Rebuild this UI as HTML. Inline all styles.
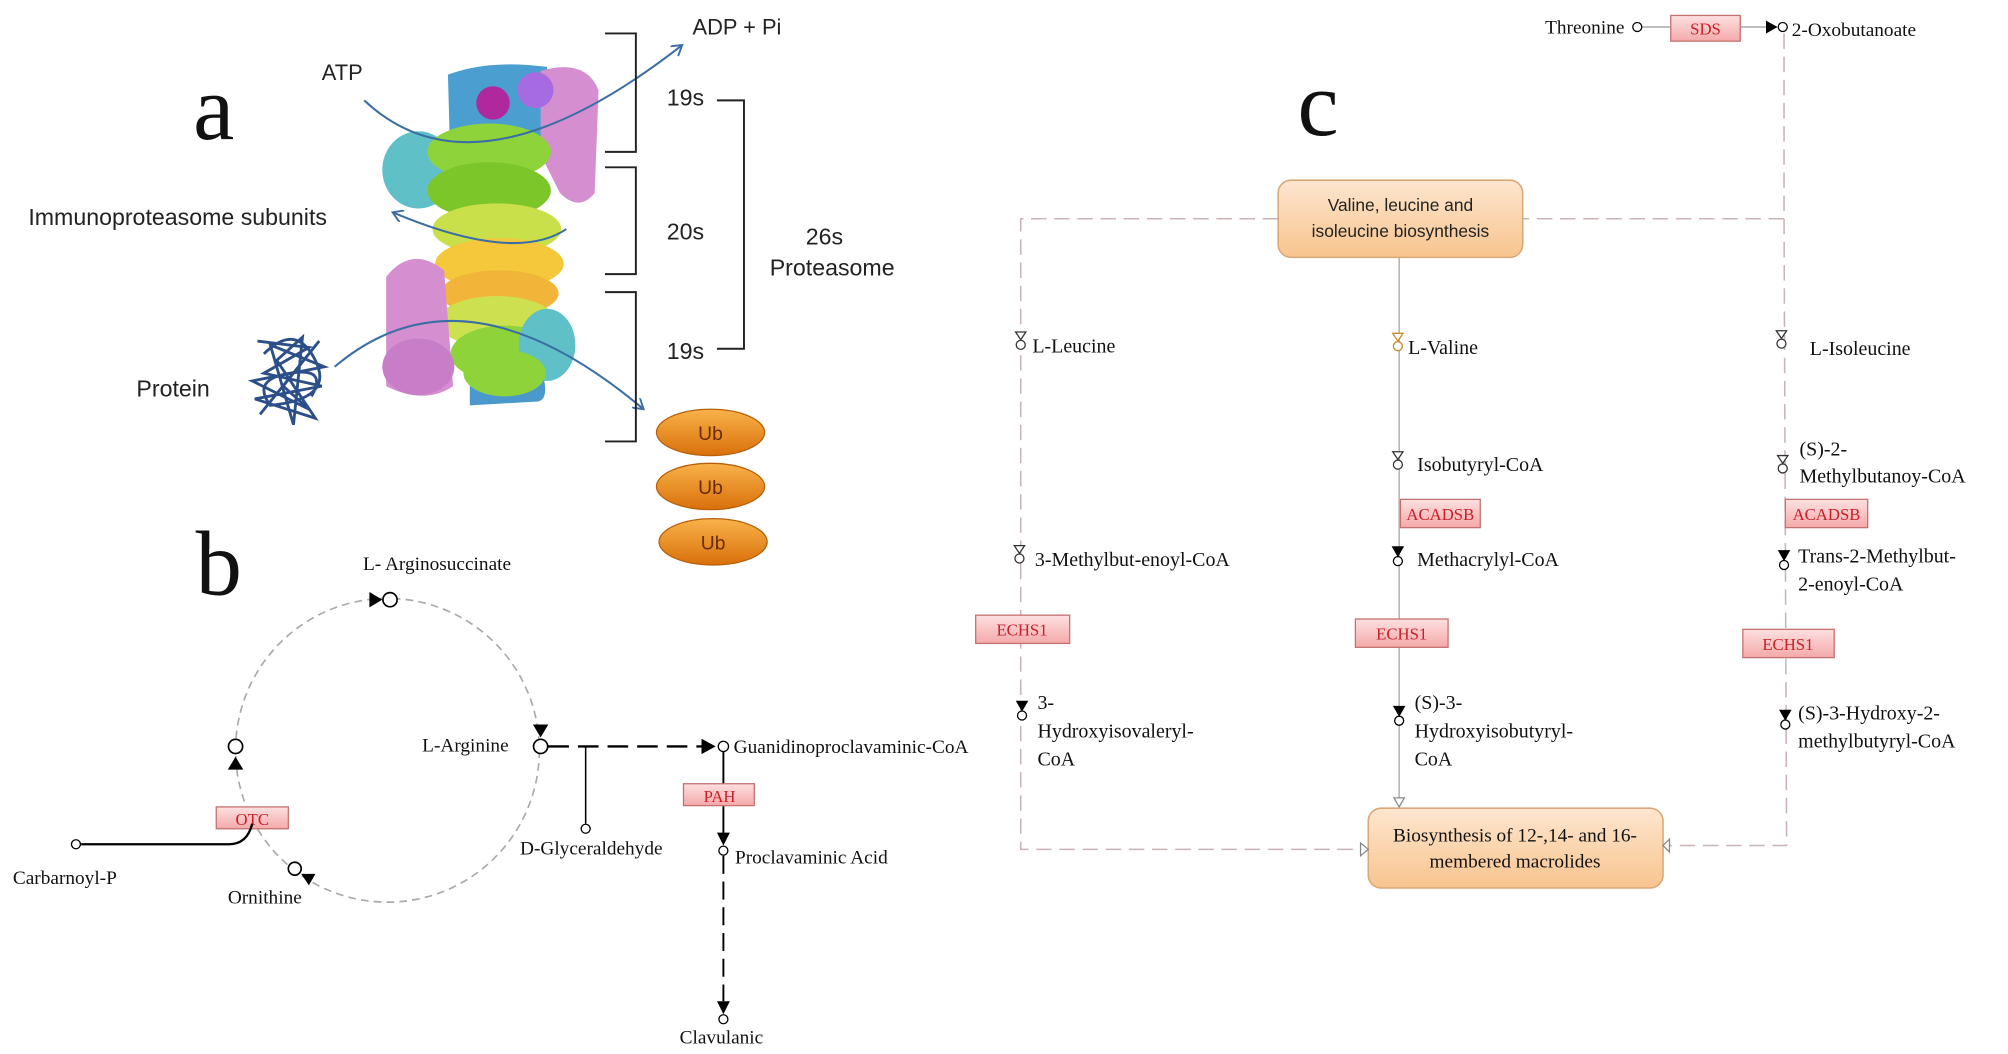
<!DOCTYPE html>
<html><head><meta charset="utf-8"><style>
html,body{margin:0;padding:0;background:#fff;width:2008px;height:1054px;overflow:hidden}
svg{display:block}
.s{font-family:"Liberation Sans",sans-serif;fill:#222}
.r{font-family:"Liberation Serif",serif;fill:#111}
.e{font-family:"Liberation Serif",serif;fill:#c8202a;font-size:13px;text-anchor:middle}
</style></head><body>
<svg width="2008" height="1054" viewBox="0 0 1560 819" preserveAspectRatio="none" xmlns="http://www.w3.org/2000/svg">
<defs>
<linearGradient id="ub" x1="0" y1="0" x2="0" y2="1"><stop offset="0" stop-color="#f9b24a"/><stop offset="1" stop-color="#d9700a"/></linearGradient>
<linearGradient id="bx" x1="0" y1="0" x2="0" y2="1"><stop offset="0" stop-color="#fde6cf"/><stop offset="1" stop-color="#f8c48e"/></linearGradient>
<linearGradient id="en" x1="0" y1="0" x2="0" y2="1"><stop offset="0" stop-color="#fde0e0"/><stop offset="1" stop-color="#f4a9a9"/></linearGradient>
<marker id="ba" markerWidth="10" markerHeight="10" refX="8" refY="5" orient="auto" markerUnits="userSpaceOnUse"><path d="M0,0 L8,5 L0,10" fill="none" stroke="#3a6ea5" stroke-width="1.5"/></marker>
</defs>

<!-- Panel a -->
<text x="150" y="108" class="r" font-size="72">a</text>
<g>
<path d="M348,58 Q380,46 425,52 L425,120 L350,130 Z" fill="#4a9fd0"/>
<path d="M420,55 Q455,45 465,70 L462,150 Q450,165 435,150 L420,120 Z" fill="#d58ed0"/>
<ellipse cx="325" cy="132" rx="28" ry="30" fill="#5fc0c8"/>
<ellipse cx="380" cy="118" rx="48" ry="22" fill="#8fd33a"/>
<ellipse cx="380" cy="148" rx="48" ry="22" fill="#7cc62a"/>
<ellipse cx="386" cy="178" rx="50" ry="20" fill="#c9e04a"/>
<ellipse cx="388" cy="205" rx="50" ry="20" fill="#f5c73a"/>
<ellipse cx="388" cy="228" rx="46" ry="18" fill="#f1b53a"/>
<ellipse cx="386" cy="250" rx="46" ry="20" fill="#cde050"/>
<ellipse cx="392" cy="275" rx="42" ry="22" fill="#8fd33a"/>
<ellipse cx="425" cy="268" rx="22" ry="28" fill="#5fc0c8"/>
<path d="M300,215 Q320,190 345,210 L352,300 Q330,315 300,300 Z" fill="#d58ed0"/>
<ellipse cx="325" cy="285" rx="28" ry="22" fill="#c87dc8"/>
<path d="M365,280 L420,285 Q428,310 418,312 L365,315 Z" fill="#4a98cc"/>
<ellipse cx="392" cy="290" rx="32" ry="18" fill="#8fd33a"/>
<circle cx="416" cy="70" r="14" fill="#a66be0"/>
<circle cx="383" cy="80" r="13" fill="#b0289e"/>
</g>
<path d="M283,78 Q370,160 530,35" fill="none" stroke="#3a6ea5" stroke-width="1.6" marker-end="url(#ba)"/>
<path d="M440,178 Q400,205 305,165" fill="none" stroke="#3a6ea5" stroke-width="1.6" marker-end="url(#ba)"/>
<path d="M260,285 Q360,200 500,318" fill="none" stroke="#3a6ea5" stroke-width="1.6" marker-end="url(#ba)"/>
<g stroke="#2c4f8a" stroke-width="2.2" fill="none">
<path d="M200,265 L240,270 L205,290 L250,300 L198,310 L245,325 L215,280 L235,262 L228,330 L210,268 L252,285 L196,296 L240,318 L220,300 L248,265 L202,322"/>
<path d="M205,275 Q230,250 245,280 T210,315 Q195,295 225,290 T242,308"/>
</g>
<text x="250" y="62" class="s" font-size="17">ATP</text>
<text x="538" y="27" class="s" font-size="17">ADP + Pi</text>
<text x="22" y="175" class="s" font-size="18">Immunoproteasome subunits</text>
<text x="106" y="308" class="s" font-size="18">Protein</text>
<text x="518" y="82" class="s" font-size="18">19s</text>
<text x="518" y="186" class="s" font-size="18">20s</text>
<text x="518" y="279" class="s" font-size="18">19s</text>
<text x="626" y="190" class="s" font-size="18">26s</text>
<text x="598" y="214" class="s" font-size="18">Proteasome</text>
<g fill="none" stroke="#222" stroke-width="1.5">
<path d="M470,26 L494,26 L494,118 L470,118"/>
<path d="M470,130 L494,130 L494,213 L470,213"/>
<path d="M470,227 L494,227 L494,343 L470,343"/>
<path d="M557,78 L578,78 L578,271 L557,271"/>
</g>
<g class="s">
<ellipse cx="552" cy="336" rx="42" ry="18" fill="url(#ub)" stroke="#b8600a"/>
<ellipse cx="552" cy="378" rx="42" ry="18" fill="url(#ub)" stroke="#b8600a"/>
<ellipse cx="554" cy="421" rx="42" ry="18" fill="url(#ub)" stroke="#b8600a"/>
<text x="552" y="342" font-size="15" text-anchor="middle" fill="#6b2c00">Ub</text>
<text x="552" y="384" font-size="15" text-anchor="middle" fill="#6b2c00">Ub</text>
<text x="554" y="427" font-size="15" text-anchor="middle" fill="#6b2c00">Ub</text>
</g>

<!-- Panel b -->
<text x="152" y="462" class="r" font-size="72">b</text>
<circle cx="301" cy="583" r="118" fill="none" stroke="#aaa" stroke-width="1.3" stroke-dasharray="6,4"/>
<text x="282" y="443" class="r" font-size="15">L- Arginosuccinate</text>
<path d="M287,460 L297,466 L287,472 Z" fill="#000"/><circle cx="303" cy="466" r="5.5" fill="#fff" stroke="#000" stroke-width="1.3"/>
<text x="328" y="584" class="r" font-size="15">L-Arginine</text>
<path d="M414,563 L420,573 L426,563 Z" fill="#000"/><circle cx="420" cy="580" r="5.5" fill="#fff" stroke="#000" stroke-width="1.3"/>
<path d="M177,598 L183,588 L189,598 Z" fill="#000"/><circle cx="183" cy="580" r="5.5" fill="#fff" stroke="#000" stroke-width="1.3"/>
<rect x="168" y="627" width="56" height="17" fill="url(#en)" stroke="#c47070"/>
<text x="196" y="641" class="e">OTC</text>
<circle cx="59" cy="656" r="3.5" fill="#fff" stroke="#000"/>
<path d="M63,656 L178,656 Q192,656 196,640" fill="none" stroke="#000" stroke-width="1.8"/>
<text x="10" y="687" class="r" font-size="15">Carbarnoyl-P</text>
<circle cx="229" cy="675" r="5" fill="#fff" stroke="#000" stroke-width="1.3"/><path d="M234,679 L245,679 L240,688 Z" fill="#000"/>
<text x="177" y="702" class="r" font-size="15">Ornithine</text>
<path d="M426,580 L545,580" stroke="#000" stroke-width="1.8" stroke-dasharray="16,7"/>
<path d="M545,574 L556,580 L545,586 Z" fill="#000"/><circle cx="562" cy="580" r="4" fill="#fff" stroke="#000"/>
<text x="570" y="585" class="r" font-size="15">Guanidinoproclavaminic-CoA</text>
<path d="M455,580 L455,640" stroke="#000" stroke-width="1.2"/><circle cx="455" cy="644" r="3.5" fill="#fff" stroke="#000"/>
<text x="404" y="664" class="r" font-size="15">D-Glyceraldehyde</text>
<path d="M562,584 L562,648" stroke="#000" stroke-width="1.5"/>
<rect x="531" y="609" width="55" height="17" fill="url(#en)" stroke="#c47070"/>
<text x="559" y="623" class="e">PAH</text>
<path d="M557,647 L562,657 L567,647 Z" fill="#000"/><circle cx="562" cy="661" r="3.5" fill="#fff" stroke="#000"/>
<text x="571" y="671" class="r" font-size="15">Proclavaminic Acid</text>
<path d="M562,665 L562,778" stroke="#000" stroke-width="1.5" stroke-dasharray="14,6"/>
<path d="M557,778 L562,788 L567,778 Z" fill="#000"/><circle cx="562" cy="792" r="3.5" fill="#fff" stroke="#000"/>
<text x="528" y="811" class="r" font-size="15">Clavulanic</text>

<!-- Panel c -->
<text x="1008" y="105" class="r" font-size="72">c</text>
<text x="1262" y="26" class="r" font-size="15" text-anchor="end">Threonine</text>
<circle cx="1272" cy="21" r="3.5" fill="#fff" stroke="#000"/>
<path d="M1276,21 L1298,21 M1352,21 L1372,21" stroke="#999"/>
<rect x="1298" y="12" width="54" height="20" fill="url(#en)" stroke="#c47070"/>
<text x="1325" y="27" class="e">SDS</text>
<path d="M1372,16 L1381,21 L1372,26 Z" fill="#000"/><circle cx="1385" cy="21" r="3.5" fill="#fff" stroke="#000"/>
<text x="1392" y="28" class="r" font-size="15">2-Oxobutanoate</text>
<g fill="none" stroke="#c8b4b4" stroke-width="1.2" stroke-dasharray="12,6">
<path d="M1386,26 L1386,170 L1183,170"/>
<path d="M993,170 L793,170 L793,660 L1058,660"/>
<path d="M1386,170 L1388,657 L1297,657"/>
</g>
<path d="M1087,200 L1087,622" stroke="#b8a8a8" stroke-width="1.1"/>
<rect x="993" y="140" width="190" height="60" rx="10" fill="url(#bx)" stroke="#d9a878" stroke-width="1.2"/>
<text x="1088" y="164" class="s" font-size="13.5" text-anchor="middle">Valine, leucine and</text>
<text x="1088" y="184" class="s" font-size="13.5" text-anchor="middle">isoleucine biosynthesis</text>
<rect x="1063" y="628" width="229" height="62" rx="10" fill="url(#bx)" stroke="#d9a878" stroke-width="1.2"/>
<text x="1177" y="654" class="r" font-size="15" text-anchor="middle">Biosynthesis of 12-,14- and 16-</text>
<text x="1177" y="674" class="r" font-size="15" text-anchor="middle">membered macrolides</text>
<path d="M1057,655 L1063,660 L1057,665 Z" fill="#fff" stroke="#888"/>
<path d="M1297,652 L1292,657 L1297,662 Z" fill="#fff" stroke="#888"/>
<path d="M1083,620 L1087,627 L1091,620 Z" fill="#fff" stroke="#888"/>

<g fill="#fff" stroke="#333" stroke-width="1">
<path d="M789,258 L797,258 L793,264 Z"/><circle cx="793" cy="268" r="3.5"/>
<path d="M1082,259 L1090,259 L1086,265 Z" stroke="#c98a2a"/><circle cx="1086" cy="269" r="3.5" stroke="#c98a2a"/>
<path d="M1380,257 L1388,257 L1384,263 Z"/><circle cx="1384" cy="267" r="3.5"/>
<path d="M1082,351 L1090,351 L1086,357 Z"/><circle cx="1086" cy="361" r="3.5"/>
<path d="M1381,354 L1389,354 L1385,360 Z"/><circle cx="1385" cy="364" r="3.5"/>
<path d="M788,424 L796,424 L792,430 Z"/><circle cx="792" cy="434" r="3.5"/>
</g>
<g stroke="#000" stroke-width="1">
<path d="M1082,425 L1090,425 L1086,432 Z" fill="#000"/><circle cx="1086" cy="436" r="3.5" fill="#fff"/>
<path d="M1382,428 L1390,428 L1386,435 Z" fill="#000"/><circle cx="1386" cy="439" r="3.5" fill="#fff"/>
<path d="M790,545 L798,545 L794,552 Z" fill="#000"/><circle cx="794" cy="556" r="3.5" fill="#fff"/>
<path d="M1083,549 L1091,549 L1087,556 Z" fill="#000"/><circle cx="1087" cy="560" r="3.5" fill="#fff"/>
<path d="M1383,552 L1391,552 L1387,559 Z" fill="#000"/><circle cx="1387" cy="563" r="3.5" fill="#fff"/>
</g>
<g class="r" font-size="15.5">
<text x="802" y="274">L-Leucine</text>
<text x="1094" y="275">L-Valine</text>
<text x="1406" y="276">L-Isoleucine</text>
<text x="1101" y="366">Isobutyryl-CoA</text>
<text x="1398" y="354">(S)-2-</text>
<text x="1398" y="375">Methylbutanoy-CoA</text>
<text x="804" y="440">3-Methylbut-enoyl-CoA</text>
<text x="1101" y="440">Methacrylyl-CoA</text>
<text x="1397" y="437">Trans-2-Methylbut-</text>
<text x="1397" y="459">2-enoyl-CoA</text>
<text x="806" y="551">3-</text>
<text x="806" y="573">Hydroxyisovaleryl-</text>
<text x="806" y="595">CoA</text>
<text x="1099" y="551">(S)-3-</text>
<text x="1099" y="573">Hydroxyisobutyryl-</text>
<text x="1099" y="595">CoA</text>
<text x="1397" y="559">(S)-3-Hydroxy-2-</text>
<text x="1397" y="581">methylbutyryl-CoA</text>
</g>
<g stroke="#c47070">
<rect x="1088" y="388" width="62" height="22" fill="url(#en)"/>
<rect x="1387" y="388" width="64" height="22" fill="url(#en)"/>
<rect x="758" y="478" width="73" height="22" fill="url(#en)"/>
<rect x="1053" y="481" width="72" height="22" fill="url(#en)"/>
<rect x="1354" y="489" width="71" height="22" fill="url(#en)"/>
</g>
<text x="1119" y="404" class="e" font-size="14">ACADSB</text>
<text x="1419" y="404" class="e" font-size="14">ACADSB</text>
<text x="794" y="494" class="e" font-size="14">ECHS1</text>
<text x="1089" y="497" class="e" font-size="14">ECHS1</text>
<text x="1389" y="505" class="e" font-size="14">ECHS1</text>
</svg>
</body></html>
